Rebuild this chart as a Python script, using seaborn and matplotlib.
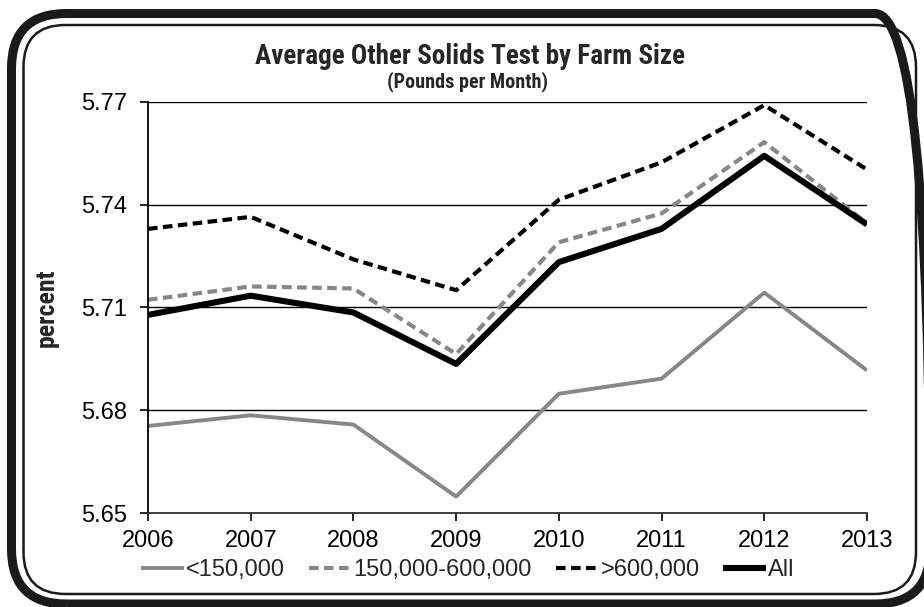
import numpy as np
import pandas as pd
import matplotlib
matplotlib.use("Agg")
import matplotlib.pyplot as plt
import seaborn as sns
from matplotlib.patches import FancyBboxPatch
from matplotlib.transforms import IdentityTransform

# data
years = [2006, 2007, 2008, 2009, 2010, 2011, 2012, 2013]
small = [5.6754, 5.6785, 5.6758, 5.6548, 5.6848, 5.6892, 5.7143, 5.6916]
medium = [5.7122, 5.7161, 5.7155, 5.6964, 5.7290, 5.7374, 5.7582, 5.7345]
large = [5.7329, 5.7364, 5.7240, 5.7150, 5.7414, 5.7523, 5.7690, 5.7502]
all_farms = [5.7078, 5.7134, 5.7085, 5.6935, 5.7232, 5.7329, 5.7542, 5.7342]
labels = ["<150,000", "150,000-600,000", ">600,000", "All"]
y_ticks = [5.65, 5.68, 5.71, 5.74, 5.77]

sns.set_theme(style="white")
plt.rcParams["font.family"] = ["Liberation Sans", "DejaVu Sans"]
narrow = ["Liberation Sans Narrow", "Roboto Condensed", "Liberation Sans", "DejaVu Sans"]

GRAY = "#878787"

fig = plt.figure(figsize=(9.24, 6.07), dpi=100)
ax = fig.add_axes([148 / 924, 1 - 513 / 607, (867 - 148) / 924, (513 - 101.7) / 607])

df = pd.DataFrame({"year": years, "small": small, "medium": medium,
                   "large": large, "all": all_farms})

styles = [
    ("small", GRAY, None, 2.8),
    ("medium", GRAY, (2.3, 1.3), 3.0),
    ("large", "black", (2.3, 1.3), 3.0),
    ("all", "black", None, 4.4),
]
for (col, color, dash, lw), lab in zip(styles, labels):
    sns.lineplot(data=df, x="year", y=col, ax=ax, color=color,
                 linewidth=lw, label=lab, legend=False)
    l = ax.lines[-1]
    if dash is not None:
        l.set_dashes(dash)
    l.set_solid_capstyle("butt")

ax.set_xlim(years[0], years[-1])
ax.set_ylim(y_ticks[0], y_ticks[-1])
ax.set_yticks(y_ticks)
ax.set_yticklabels([f"{v:.2f}" for v in y_ticks])
ax.set_xticks(years)
ax.set_xticklabels([str(y) for y in years])
ax.yaxis.grid(True, color="black", linewidth=1.0)
ax.set_axisbelow(True)
ax.set_xlabel("")
ax.set_ylabel("percent", fontsize=18.5, fontweight="bold", family=narrow)
ax.yaxis.set_label_coords(-0.124, 0.5)

for s in ["top", "right"]:
    ax.spines[s].set_visible(False)
ax.spines["left"].set_color("black")
ax.spines["left"].set_linewidth(1.3)
ax.spines["bottom"].set_color("#333333")
ax.spines["bottom"].set_linewidth(1.3)
ax.tick_params(axis="both", which="major", direction="out", length=6,
               width=1.2, color="black", labelsize=17, labelcolor="black",
               left=True, bottom=True)
ax.tick_params(axis="y", pad=9)
ax.tick_params(axis="x", pad=6)

fig.text(470 / 924, 1 - 56 / 607, "Average Other Solids Test by Farm Size",
         ha="center", va="center", fontsize=19.5, fontweight="bold", family=narrow)
fig.text(468 / 924, 1 - 82 / 607, "(Pounds per Month)",
         ha="center", va="center", fontsize=14.5, fontweight="bold", family=narrow)

handles = ax.lines[:4]
fig.legend(handles, labels, loc="center", bbox_to_anchor=(468 / 924, 1 - 570 / 607),
           ncol=4, frameon=False, fontsize=17, handlelength=1.8,
           handletextpad=0.1, columnspacing=1.0, borderaxespad=0)

# rounded double frame around the chart (pixel coordinates)
outer = FancyBboxPatch((11.5, 3), 918.5, 590.5, boxstyle="round,pad=0,rounding_size=55",
                       transform=IdentityTransform(), facecolor="none",
                       edgecolor="#1a1a1a", linewidth=6.5)
inner = FancyBboxPatch((23.5, 13), 892.5, 569, boxstyle="round,pad=0,rounding_size=42",
                       transform=IdentityTransform(), facecolor="none",
                       edgecolor="#1a1a1a", linewidth=1.8)
fig.add_artist(outer)
fig.add_artist(inner)

fig.savefig("out.png", dpi=100)
